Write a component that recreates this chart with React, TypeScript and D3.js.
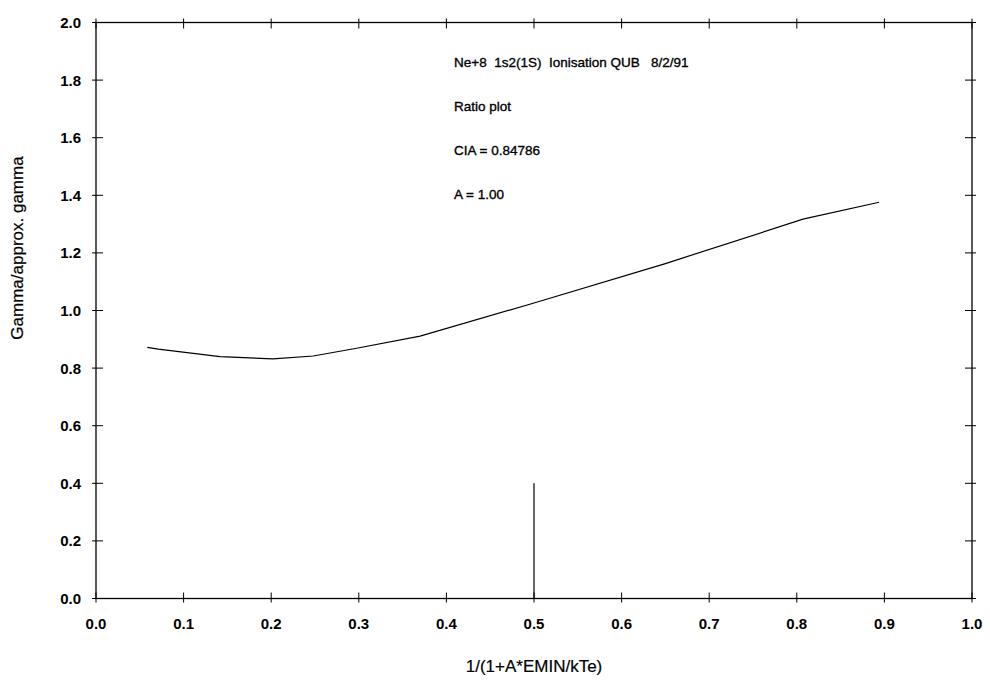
import React from "react";
import * as d3 from "d3";

const curveX = [0.0586, 0.0711, 0.1416, 0.202, 0.248, 0.296, 0.37, 0.5, 0.65, 0.807, 0.894];
const curveY = [0.872, 0.866, 0.84, 0.832, 0.842, 0.868, 0.911, 1.026, 1.163, 1.317, 1.376];
const markerX = [0.5, 0.5];
const markerY = [0.0, 0.4];
const xTicks = [0, 0.1, 0.2, 0.3, 0.4, 0.5, 0.6, 0.7, 0.8, 0.9, 1.0];
const yTicks = [0, 0.2, 0.4, 0.6, 0.8, 1.0, 1.2, 1.4, 1.6, 1.8, 2.0];
const notes = [
  "Ne+8  1s2(1S)  Ionisation QUB   8/2/91",
  "Ratio plot",
  "CIA = 0.84786",
  "A = 1.00",
];
const xTitle = "1/(1+A*EMIN/kTe)";
const yTitle = "Gamma/approx. gamma";

export default function App() {
  const W = 990, H = 684;
  const left = 96, right = 972, top = 22.5, bottom = 598.5;
  const x = d3.scaleLinear().domain([0, 1]).range([left, right]);
  const y = d3.scaleLinear().domain([0, 2]).range([bottom, top]);
  const line = d3.line<number>().x((_, i) => x(curveX[i])).y((d) => y(d));
  const mline = d3.line<number>().x((_, i) => x(markerX[i])).y((d) => y(d));
  const font = "'Liberation Sans', Arial, Helvetica, sans-serif";
  return (
    <svg width={W} height={H} style={{ position: "absolute", left: 0, top: 0, background: "#fff" }} fontFamily={font}>
      <rect x={0} y={0} width={W} height={H} fill="#fff" />
      <rect x={left} y={top} width={right - left} height={bottom - top} fill="none" stroke="#000" strokeWidth={1.3} />
      {xTicks.map((t) => (
        <g key={"x" + t}>
          <line x1={x(t)} x2={x(t)} y1={bottom - 6} y2={bottom + 4} stroke="#000" strokeWidth={1} />
          <line x1={x(t)} x2={x(t)} y1={top - 4} y2={top + 6} stroke="#000" strokeWidth={1} />
          <text x={x(t)} y={bottom + 30} textAnchor="middle" fontSize={15} fontWeight="bold">{t.toFixed(1)}</text>
        </g>
      ))}
      {yTicks.map((t) => (
        <g key={"y" + t}>
          <line x1={left - 4} x2={left + 7} y1={y(t)} y2={y(t)} stroke="#000" strokeWidth={1} />
          <line x1={right - 7} x2={right + 4} y1={y(t)} y2={y(t)} stroke="#000" strokeWidth={1} />
          <text x={81} y={y(t) + 5.5} textAnchor="end" fontSize={15} fontWeight="bold">{t.toFixed(1)}</text>
        </g>
      ))}
      <path d={line(curveY) || ""} fill="none" stroke="#000" strokeWidth={1.2} />
      <path d={mline(markerY) || ""} fill="none" stroke="#000" strokeWidth={1.2} />
      {notes.map((n, i) => (
        <text key={n} x={454} y={67 + i * 44} fontSize={13.5} stroke="#000" strokeWidth={0.35} style={{ whiteSpace: "pre" }} xmlSpace="preserve">{n}</text>
      ))}
      <text x={534} y={672} textAnchor="middle" fontSize={17} stroke="#000" strokeWidth={0.2}>{xTitle}</text>
      <text transform={`translate(23,${248}) rotate(-90)`} textAnchor="middle" fontSize={17} stroke="#000" strokeWidth={0.2}>{yTitle}</text>
    </svg>
  );
}
